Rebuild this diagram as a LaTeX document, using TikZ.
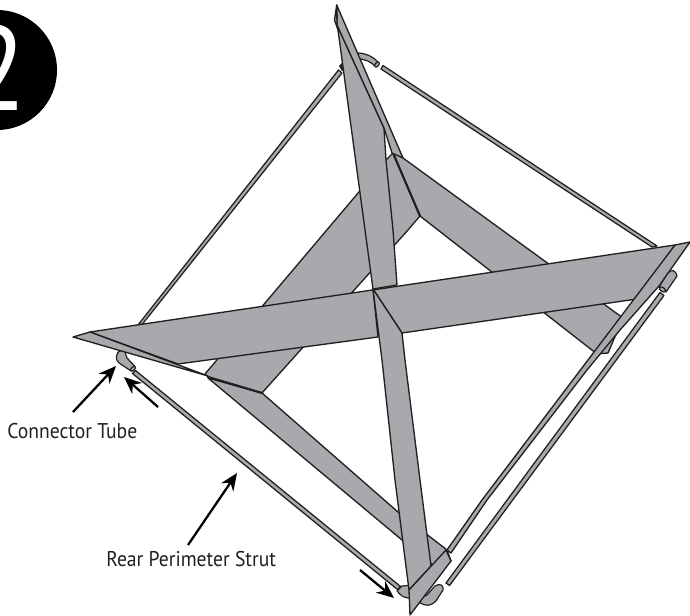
\documentclass[tikz,border=0pt]{standalone}
\usepackage{fontspec}
\setmainfont{PT Sans}[FakeStretch=0.92]
\usetikzlibrary{arrows.meta}
\definecolor{wing}{HTML}{A7A9AC}
\definecolor{ink}{HTML}{231F20}
\tikzset{
  panel/.style={fill=wing,draw=ink,line width=1pt,line join=round},
  foldline/.style={draw=ink,line width=1.6pt,line cap=round},
  strut/.style={fill=wing,draw=ink,line width=0.95pt,line join=round},
  tube/.style={fill=wing,draw=ink,line width=0.9pt,line join=round},
  pointer/.style={draw=black,line width=1.7pt,-{Stealth[length=13pt,width=11pt]}},
  caption/.style={text=ink,inner sep=0pt,font=\fontsize{16pt}{18pt}\selectfont}
}
\begin{document}
\begin{tikzpicture}[x=0.75pt,y=-0.75pt]
\useasboundingbox (0,0) rectangle (690,616);
\begin{scope}
\clip (0,0) rectangle (690,616);
% badge
\fill[black] (-3,70) circle [radius=60];
\node[text=white,inner sep=0pt,anchor=base east,font=\fontsize{90pt}{90pt}\selectfont] (badge) at (27,111) {2};
% struts
\path[strut] (383,65.5) -- (657,246) -- (652,247) -- (381,69) -- cycle;
\path[strut] (338.5,70) -- (342,73) -- (142.5,324) -- (138,325) -- cycle;
\path[strut] (135.5,370.5) -- (400.5,586.5) -- (397.5,589.5) -- (132.5,373.5) -- cycle;
\path[strut] (446,583) -- (449.5,585.5) -- (664,295.5) -- (660,292.5) -- cycle;
% connector tubes
\path[tube] (358,53) .. controls (365,53) and (372,56) .. (378,62) -- (376,67) .. controls (371,62) and (366,59) .. (358,59) -- cycle;
\path[tube] (377,64.5) ellipse [x radius=3,y radius=1.8,rotate=50];
\path[fill=ink] (339,66) -- (342,63) -- (345,70) -- (342,71) -- cycle;
\path[tube] (122,350) .. controls (115,352) and (115,360) .. (119,363) -- (131,371) -- (135,366.5) -- (127,358) -- (125,352) -- cycle;
\path[tube] (133,368.8) ellipse [x radius=3,y radius=1.7,rotate=45];
\path[tube] (402,586) -- (397,591) .. controls (401,596) and (404,598) .. (410,598) -- (414,585) -- cycle;
\path[tube] (419,602) .. controls (426,607) and (431,606) .. (436,601) -- (443,590) .. controls (444,585) and (440,583) .. (435,586) -- (427,595) .. controls (425,597) and (423,597) .. (420,596) -- cycle;
% rear spreader strips
\path[panel] (393,153) -- (403,158) -- (623,318) -- (608,353) -- (597,354) -- (420,216) -- cycle;
\path[panel] (262,393) -- (398,512) -- (447,550) -- (451,561) -- (433,565) -- (402,540) -- (208,378) -- cycle;
\path[panel] (386,160) -- (393,153) -- (420,216) -- (408,230) -- (262,393) -- (208,377) -- (205,374) -- cycle;
\draw[foldline] (393,153) -- (420,216);
\draw[foldline] (208,377) -- (262,393);
% upper part of the vertical wing
\path[panel] (338,30) -- (373,289) -- (397,285) -- (393,230) -- (386,160) -- (384,128) -- (337,25) -- cycle;
\path[panel] (337,25) -- (336.7,5) -- (403,158) -- (392,153) -- (384,128) -- cycle;
\path[panel] (336.7,5) -- (334.5,20) -- (338,30) -- (337,25) -- cycle;
% horizontal wing
\path[panel] (90,332) -- (675,245) -- (637,299) -- (402,333) -- (373,289) -- (378,337) -- (178,364) -- cycle;
\path[panel] (73,337) -- (90,332) -- (208,376) -- cycle;
% lower part of the vertical wing
\path[panel] (373,289) -- (402,333) -- (405,360) -- (420,480) -- (431,566) -- (409,590) -- (395,480) -- (382,360) -- cycle;
\path[panel] (409,590) -- (446,550) -- (451,561) -- (410,615) -- cycle;
% right flap and strut running along its fold
\path[panel] (675,245) -- (690,242) -- (659,286) -- (620,330) -- (587,370) -- (487,500) -- (451,553) -- (447,550) -- (482,500) -- cycle;
% tube on right flap
\path[tube] (659,287) -- (668,273) .. controls (671,269) and (676,270) .. (677,276) -- (666,292) -- cycle;
\path[tube] (662.5,289.5) ellipse [x radius=3.4,y radius=2,rotate=-37];
\end{scope}
% pointers
\coordinate (ct1a) at (73,412);  \coordinate (ct1b) at (116,366);
\coordinate (ct2a) at (158,407); \coordinate (ct2b) at (124,377);
\coordinate (rp1a) at (188,545); \coordinate (rp1b) at (237,473);
\coordinate (rp2a) at (360,570); \coordinate (rp2b) at (394,598);
\draw[pointer] (ct1a) -- (ct1b);
\draw[pointer] (ct2a) -- (ct2b);
\draw[pointer] (rp1a) -- (rp1b);
\draw[pointer] (rp2a) -- (rp2b);
% labels
\node[caption,anchor=base west] (lblct) at (7,439) {Connector Tube};
\node[caption,anchor=base west] (lblrp) at (106,567) {Rear Perimeter Strut};
\end{tikzpicture}
\end{document}
